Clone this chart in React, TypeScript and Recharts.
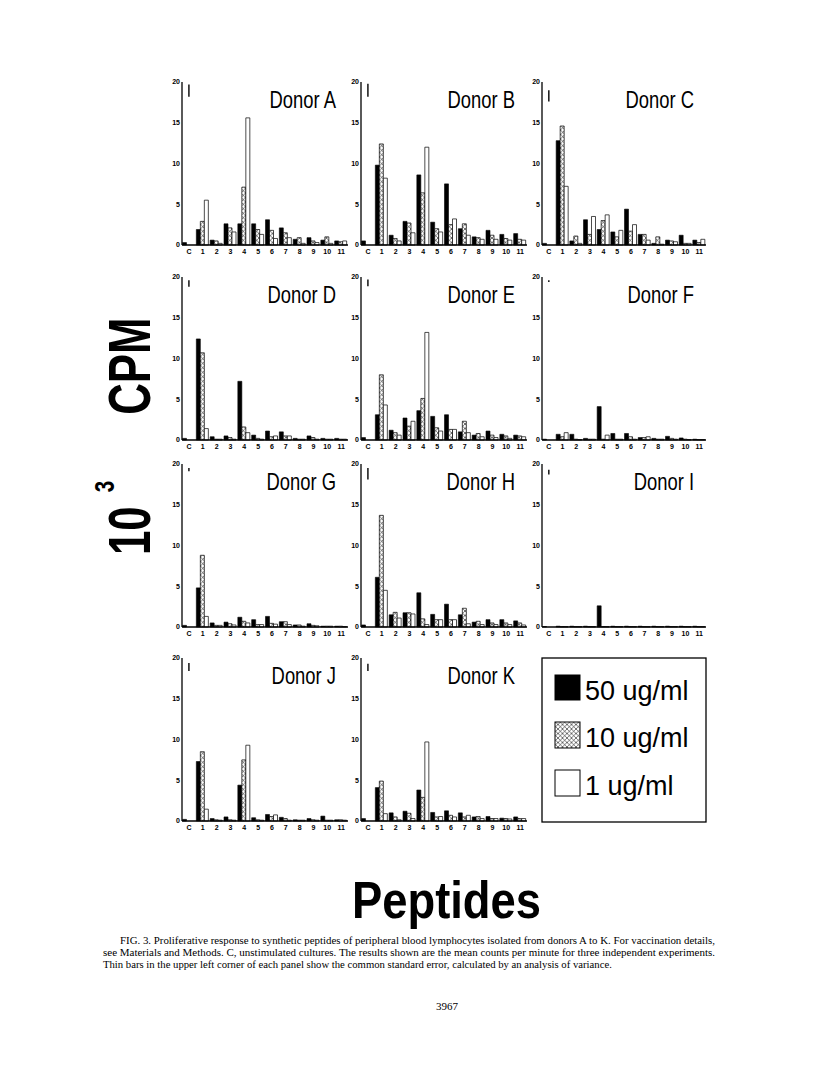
import React from "react";
import {Bar, BarChart, ReferenceLine, XAxis, YAxis} from "recharts";

const categories = ["C", "1", "2", "3", "4", "5", "6", "7", "8", "9", "10", "11"];
const yTicks = [0, 5, 10, 15, 20];

// values in 10^3 cpm: 50, 10 and 1 ug/ml per donor
const a50 = [0.3, 1.9, 0.6, 2.6, 2.6, 2.6, 3.1, 2.1, 0.7, 0.9, 0.6, 0.5];
const a10 = [0, 2.9, 0.5, 2.1, 7.1, 1.9, 1.8, 1.5, 0.9, 0.5, 1.0, 0.4];
const a1 = [0, 5.5, 0.2, 1.6, 15.6, 1.3, 0.8, 0.9, 0.2, 0.3, 0.2, 0.5];

const b50 = [0.5, 9.8, 1.2, 2.9, 8.6, 2.8, 7.5, 2.0, 1.0, 1.8, 1.3, 1.4];
const b10 = [0, 12.4, 0.8, 2.7, 6.4, 2.0, 2.5, 2.6, 0.9, 1.2, 0.8, 0.7];
const b1 = [0, 8.2, 0.5, 1.5, 12.0, 1.6, 3.2, 1.2, 0.7, 0.7, 0.6, 0.6];

const c50 = [0.2, 12.8, 0.5, 3.1, 1.9, 1.6, 4.4, 1.3, 0.2, 0.6, 1.2, 0.6];
const c10 = [0, 14.6, 1.1, 1.3, 3.0, 1.0, 1.7, 1.3, 1.0, 0.5, 0.2, 0.3];
const c1 = [0, 7.2, 0.2, 3.5, 3.7, 1.8, 2.5, 0.6, 0.1, 0.4, 0.2, 0.7];

const d50 = [0.2, 12.4, 0.4, 0.5, 7.2, 0.6, 1.1, 1.0, 0.2, 0.5, 0.2, 0.2];
const d10 = [0, 10.7, 0.1, 0.3, 1.6, 0.2, 0.4, 0.5, 0.1, 0.3, 0.1, 0.1];
const d1 = [0, 1.4, 0.1, 0.1, 0.9, 0.1, 0.5, 0.5, 0.1, 0.1, 0.1, 0.1];

const e50 = [0.3, 3.1, 1.2, 2.7, 3.6, 2.9, 3.1, 1.0, 0.6, 1.1, 0.7, 0.6];
const e10 = [0, 8.0, 0.9, 1.7, 5.1, 1.5, 1.3, 2.3, 0.8, 0.6, 0.5, 0.5];
const e1 = [0, 4.3, 0.6, 2.3, 13.2, 1.1, 1.3, 0.9, 0.4, 0.3, 0.2, 0.4];

const f50 = [0.1, 0.7, 0.7, 0.2, 4.1, 0.8, 0.8, 0.3, 0.2, 0.45, 0.25, 0.1];
const f10 = [0, 0.4, 0.1, 0.1, 0.1, 0.1, 0.4, 0.3, 0.1, 0.2, 0.1, 0.05];
const f1 = [0, 0.9, 0.05, 0.1, 0.6, 0.1, 0.1, 0.4, 0.1, 0.1, 0.05, 0.05];

const g50 = [0.2, 4.8, 0.5, 0.6, 1.2, 0.9, 1.3, 0.65, 0.25, 0.4, 0.1, 0.1];
const g10 = [0, 8.8, 0.2, 0.4, 0.7, 0.3, 0.45, 0.65, 0.25, 0.2, 0.1, 0.1];
const g1 = [0, 1.3, 0.2, 0.25, 0.5, 0.3, 0.35, 0.3, 0.1, 0.15, 0.1, 0.05];

const h50 = [0.25, 6.1, 1.5, 1.75, 4.2, 1.55, 2.8, 1.5, 0.6, 0.9, 0.9, 0.75];
const h10 = [0, 13.7, 1.8, 1.75, 1.0, 0.9, 0.9, 2.3, 0.7, 0.5, 0.5, 0.5];
const h1 = [0, 4.5, 1.1, 1.6, 0.3, 0.9, 0.9, 0.4, 0.3, 0.3, 0.3, 0.25];

const i50 = [0.05, 0.1, 0.1, 0.1, 2.6, 0.1, 0.1, 0.1, 0.1, 0.1, 0.1, 0.1];
const i10 = [0, 0.05, 0.05, 0.05, 0.05, 0.05, 0.05, 0.05, 0.05, 0.05, 0.05, 0.05];
const i1 = [0, 0.05, 0.05, 0.05, 0.05, 0.05, 0.05, 0.05, 0.05, 0.05, 0.05, 0.05];

const j50 = [0.2, 7.3, 0.3, 0.5, 4.4, 0.4, 0.8, 0.45, 0.15, 0.3, 0.6, 0.15];
const j10 = [0, 8.5, 0.15, 0.15, 7.5, 0.15, 0.55, 0.3, 0.1, 0.15, 0.1, 0.15];
const j1 = [0, 1.45, 0.1, 0.1, 9.3, 0.1, 0.75, 0.1, 0.1, 0.1, 0.1, 0.1];

const k50 = [0.3, 4.1, 1.0, 1.2, 3.8, 1.05, 1.25, 1.0, 0.5, 0.55, 0.35, 0.5];
const k10 = [0, 4.9, 0.5, 0.95, 2.9, 0.5, 0.7, 0.5, 0.55, 0.3, 0.3, 0.3];
const k1 = [0, 0.9, 0.15, 0.3, 9.7, 0.55, 0.5, 0.7, 0.3, 0.3, 0.25, 0.3];

// common standard error bars (low, high) drawn in the upper left corner
const seBars = [
	[18.2, 19.7], [18.2, 19.8], [17.6, 19.0],
	[18.8, 19.6], [18.85, 19.7], [19.4, 19.6],
	[19.1, 19.5], [18.1, 19.5], [18.7, 19.3],
	[18.4, 19.4], [18.4, 19.3],
];

const donorNames = ["A", "B", "C", "D", "E", "F", "G", "H", "I", "J", "K"];
const series50 = [a50, b50, c50, d50, e50, f50, g50, h50, i50, j50, k50];
const series10 = [a10, b10, c10, d10, e10, f10, g10, h10, i10, j10, k10];
const series1 = [a1, b1, c1, d1, e1, f1, g1, h1, i1, j1, k1];

const cols = [
	{left: 182, width: 166},
	{left: 361, width: 166},
	{left: 542, width: 164},
];
const rowTops = [82, 277, 464, 658];
const PLOT_H = 163;
const Y_W = 22;
const X_H = 18;
const M_TOP = 6;

const sans = "'Liberation Sans', Arial, Helvetica, sans-serif";
const serif = "'Liberation Serif', 'Times New Roman', serif";

function DonorPanel({index}: {index: number}) {
	const col = cols[index % 3];
	const top = rowTops[Math.floor(index / 3)];
	const data = categories.map((cat, i) => ({
		cat,
		s50: series50[index][i],
		s10: series10[index][i],
		s1: series1[index][i],
	}));
	const se = seBars[index];
	const tickStyle = {fontSize: 7, fontWeight: 700, fill: "#000", fontFamily: sans};
	const frame = {stroke: "#000", strokeWidth: 1.3};

	return (
		<div style={{position: "absolute", left: col.left - Y_W, top: top - M_TOP}}>
			<BarChart
				width={Y_W + col.width + 2}
				height={M_TOP + PLOT_H + X_H}
				data={data}
				margin={{top: M_TOP, right: 2, left: 0, bottom: 0}}
				barCategoryGap={0.5}
				barGap={0}
			>
				<XAxis dataKey="cat" interval={0} tickLine={false} tickSize={0} tickMargin={4}
				       height={X_H} axisLine={frame} tick={tickStyle}/>
				<XAxis xAxisId="top" dataKey="cat" orientation="top" height={0} tick={false}
				       tickLine={false} axisLine={frame}/>
				<YAxis domain={[0, 20]} ticks={yTicks} interval={0} width={Y_W} tickLine={false}
				       tickSize={0} tickMargin={2} axisLine={frame} tick={tickStyle}/>
				<YAxis yAxisId="right" orientation="right" domain={[0, 20]} width={0} tick={false}
				       tickLine={false} axisLine={frame}/>
				<ReferenceLine segment={[{x: "C", y: se[0]}, {x: "C", y: se[1]}]} stroke="#000" strokeWidth={1.4}/>
				<Bar dataKey="s50" fill="#000" stroke="#000" strokeWidth={0.6} isAnimationActive={false}/>
				<Bar dataKey="s10" fill="url(#xhatch)" stroke="#000" strokeWidth={0.7} isAnimationActive={false}/>
				<Bar dataKey="s1" fill="#fff" stroke="#000" strokeWidth={0.7} isAnimationActive={false}/>
			</BarChart>
		</div>
	);
}

function Overlay() {
	const legendX = 542;
	const legendY = 658;
	return (
		<svg width={816} height={1076} style={{position: "absolute", left: 0, top: 0, pointerEvents: "none"}}>
			{donorNames.map((n, i) => {
				const col = cols[i % 3];
				const top = rowTops[Math.floor(i / 3)];
				const x = col.left + col.width - 12;
				const y = top + 26;
				return (
					<text key={n} transform={`translate(${x},${y}) scale(0.8,1)`} textAnchor="end"
					      fontSize={23} fontFamily={sans} fill="#000">
						{`Donor ${n}`}
					</text>
				);
			})}

			{/* legend box */}
			<rect x={legendX} y={legendY} width={164} height={164} fill="none" stroke="#000" strokeWidth={1.3}/>
			<rect x={555} y={675} width={25} height={25} fill="#000" stroke="#000"/>
			<rect x={555} y={722} width={25} height={26} fill="url(#xhatch)" stroke="#000"/>
			<rect x={555} y={770} width={25} height={26} fill="#fff" stroke="#000"/>
			<text x={585} y={700} fontSize={27} fontFamily={sans}>50 ug/ml</text>
			<text x={585} y={747} fontSize={27} fontFamily={sans}>10 ug/ml</text>
			<text x={585} y={795} fontSize={27} fontFamily={sans}>1 ug/ml</text>

			{/* y axis title */}
			<text transform="translate(150,555) rotate(-90) scale(0.73,1)" fontSize={60} fontWeight={700}
			      fontFamily={sans} fill="#000">
				<tspan x={0} y={0}>10</tspan>
				<tspan x={86} y={-36} fontSize={28}>3</tspan>
				<tspan x={192} y={0}>CPM</tspan>
			</text>

			{/* x axis title */}
			<text x={352} y={918} fontSize={52} fontWeight={700} fontFamily={sans} textLength={189}
			      lengthAdjust="spacingAndGlyphs">Peptides</text>

			{/* caption */}
			<text x={120} y={944} fontSize={10.7} fontFamily={serif} textLength={595} lengthAdjust="spacingAndGlyphs">
				FIG. 3. Proliferative response to synthetic peptides of peripheral blood lymphocytes isolated from donors A to K. For vaccination details,
			</text>
			<text x={103} y={956} fontSize={10.7} fontFamily={serif} textLength={612} lengthAdjust="spacingAndGlyphs">
				see Materials and Methods. C, unstimulated cultures. The results shown are the mean counts per minute for three independent experiments.
			</text>
			<text x={103} y={968} fontSize={10.7} fontFamily={serif}>
				Thin bars in the upper left corner of each panel show the common standard error, calculated by an analysis of variance.
			</text>
			<text x={447} y={1010} fontSize={11} fontFamily={serif} textAnchor="middle">3967</text>
		</svg>
	);
}

export default function App() {
	return (
		<div style={{position: "absolute", left: 0, top: 0, width: 816, height: 1076, background: "#fff"}}>
			<svg width={0} height={0} style={{position: "absolute"}}>
				<defs>
					<pattern id="xhatch" patternUnits="userSpaceOnUse" width={4.5} height={4.5}>
						<rect width={4.5} height={4.5} fill="#fff"/>
						<path d="M0,0 L4.5,4.5 M4.5,0 L0,4.5" stroke="#000" strokeWidth={0.55}/>
					</pattern>
				</defs>
			</svg>
			{donorNames.map((n, i) => (
				<DonorPanel key={n} index={i}/>
			))}
			<Overlay/>
		</div>
	);
}
